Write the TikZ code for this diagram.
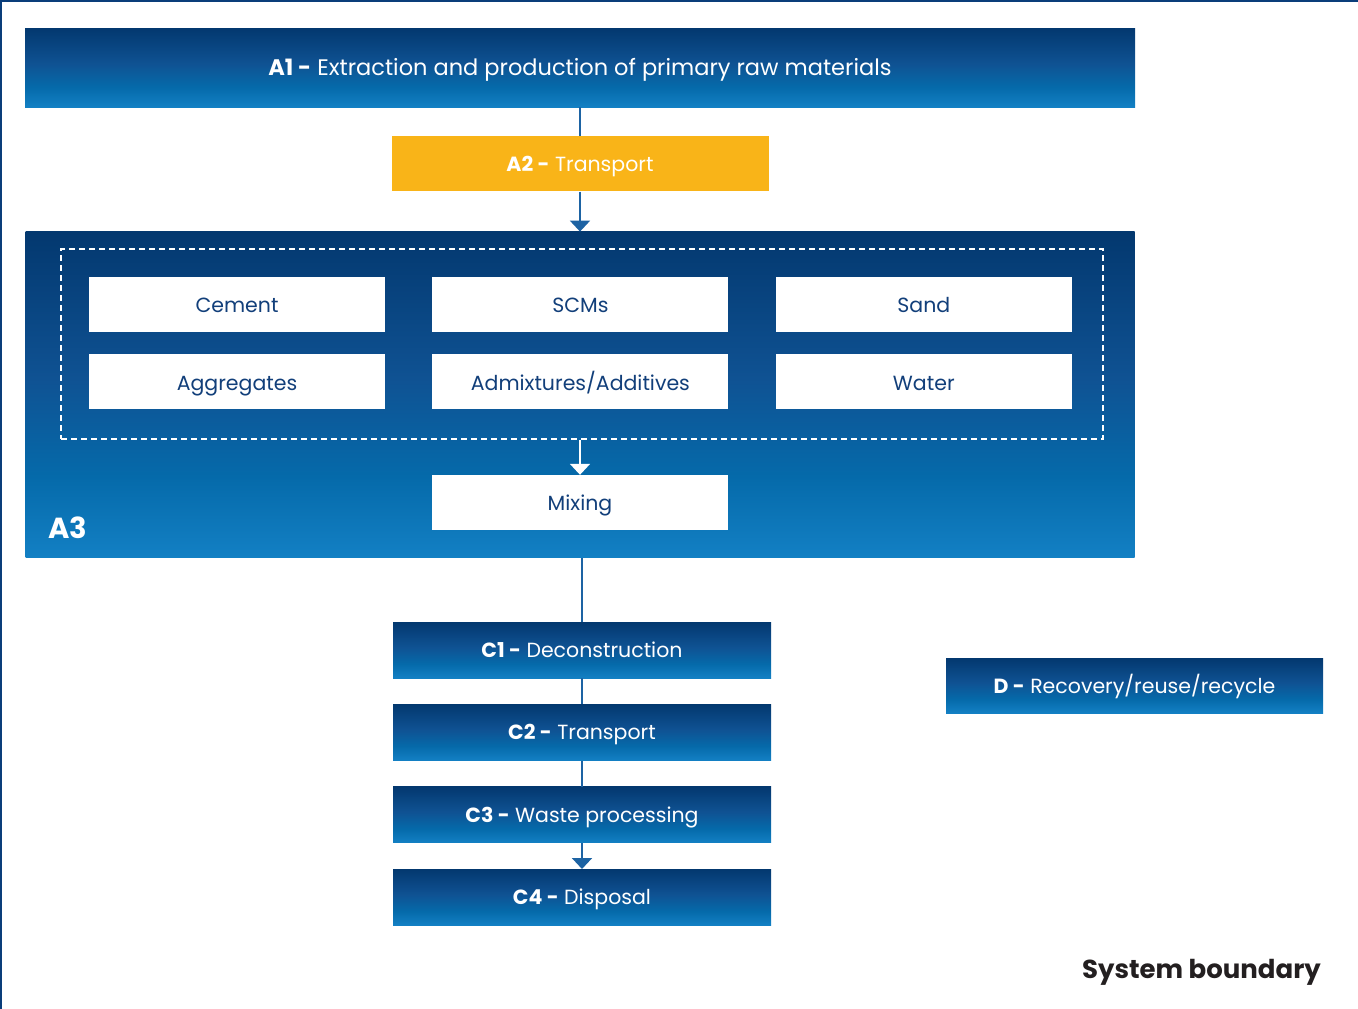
\documentclass[tikz,border=0pt]{standalone}
\usepackage{fontspec}
\setmainfont{Poppins}
\usetikzlibrary{positioning,arrows.meta}

\definecolor{bartop}{HTML}{03386F}
\definecolor{barmid}{HTML}{0F5293}
\definecolor{barlow}{HTML}{056AAA}
\definecolor{barbot}{HTML}{1380C4}
\definecolor{navytext}{HTML}{123F7A}
\definecolor{linkblue}{HTML}{1D63A3}
\definecolor{boundblue}{HTML}{0A3D7A}
\definecolor{amber}{HTML}{F9B418}
\definecolor{inkblack}{HTML}{231F20}

\pgfdeclareverticalshading{bluebar}{100bp}{color(0bp)=(barbot); color(25bp)=(barbot); color(37.5bp)=(barlow); color(52.5bp)=(barmid); color(75bp)=(bartop); color(100bp)=(bartop)}

\begin{document}
\begin{tikzpicture}[x=1pt, y=1pt,
    bluebox/.style={rectangle, shading=bluebar, text=white, inner sep=0pt, minimum width=378pt, minimum height=56pt, text height=15pt, text depth=0pt, font=\fontsize{20.5}{25}\selectfont},
    whitebox/.style={rectangle, fill=white, text=navytext, inner sep=0pt, minimum width=296pt, minimum height=55pt, text height=16.5pt, text depth=0pt, font=\fontsize{20.5}{25}\selectfont},
    link/.style={draw=linkblue, line width=2pt},
    linkarrow/.style={link, -{Triangle[width=20pt,length=11pt]}},
    ]
    \useasboundingbox (0,0) rectangle (1358,-1009);

    %Boundary
    \draw[boundblue, line width=2.5pt] (1358,-1.2) -- (1.2,-1.2) -- (1.2,-1009);

    %Nodes
    \node[bluebox, minimum width=1110pt, minimum height=79pt, text height=16pt, font=\fontsize{22.5}{27}\selectfont] (a1) at (580,-67.5) {\textbf{A1 -} Extraction and production of primary raw materials};
    \node[rectangle, fill=amber, text=white, inner sep=0pt, minimum width=377pt, minimum height=55pt, text height=15pt, text depth=0pt, font=\fontsize{20.5}{25}\selectfont] (a2) [below=29pt of a1] {\textbf{A2 -} Transport};
    \node[bluebox, minimum width=1109pt, minimum height=326pt] (a3) [below=40pt of a2] {};
    \node[rectangle, draw=white, dashed, line width=1.6pt, dash pattern=on 6pt off 4pt, minimum width=1042pt, minimum height=190pt] (mix) at (582,-344) {};

    \node[whitebox] (cement) at (237,-304.5) {Cement};
    \node[whitebox] (scms)       [right=47pt of cement] {SCMs};
    \node[whitebox] (sand)       [right=47pt of scms] {Sand};
    \node[whitebox] (aggr)       [below=22pt of cement] {Aggregates};
    \node[whitebox] (admix)      [below=22pt of scms] {Admixtures/Additives};
    \node[whitebox] (water)      [below=22pt of sand] {Water};
    \node[whitebox] (mixing) at (580,-502.5) {Mixing};
    \node[text=white, font=\fontsize{29}{32}\bfseries, anchor=west, inner sep=0pt] (a3label) at (48,-528) {A3};

    \node[bluebox] (c1) at (582,-650) {\textbf{C1 -} Deconstruction};
    \node[bluebox] (c2) [below=26pt of c1] {\textbf{C2 -} Transport};
    \node[bluebox] (c3) [below=26pt of c2] {\textbf{C3 -} Waste processing};
    \node[bluebox] (c4) [below=26pt of c3] {\textbf{C4 -} Disposal};
    \node[bluebox, minimum width=377pt, minimum height=55pt] (d) at (1134.5,-685.5) {\textbf{D -} Recovery/reuse/recycle};

    \node[text=inkblack, font=\fontsize{26}{30}\bfseries, anchor=east, inner sep=0pt] (sysb) at (1321,-972) {System boundary};

    %Lines
    \draw[link] (a1.south) -- (a2.north);
    \draw[linkarrow] (a2.south) -- (a3.north);
    \draw[draw=white, line width=2pt, -{Triangle[width=20pt,length=11pt]}] (mix.south) ++(-2,0) -- (mixing.north);
    \draw[link] (a3.south -| c1.north) -- (c1.north);
    \draw[link] (c1.south) -- (c2.north);
    \draw[link] (c2.south) -- (c3.north);
    \draw[linkarrow] (c3.south) -- (c4.north);
\end{tikzpicture}
\end{document}
